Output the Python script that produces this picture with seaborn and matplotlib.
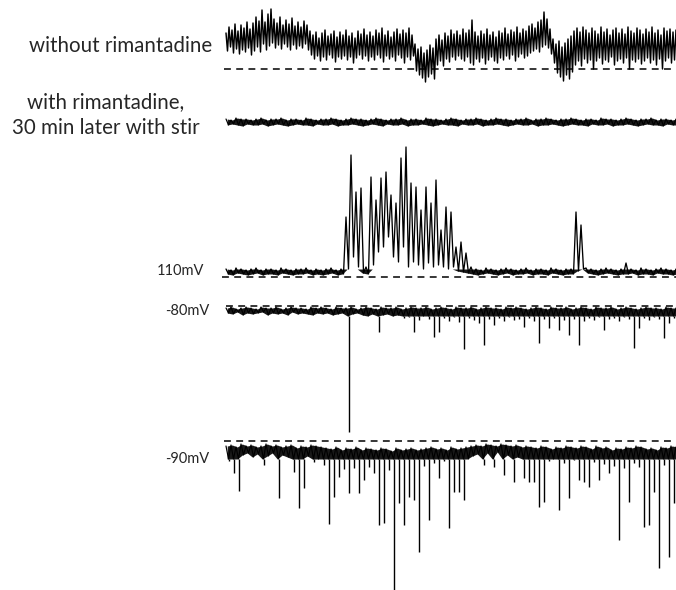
import numpy as np
import pandas as pd
import seaborn as sns
import matplotlib
matplotlib.use("Agg")
import matplotlib.pyplot as plt

# ---------------- data (current relative to closed level) -------------
# hi = upper excursion, lo = lower excursion of each sampling interval
DT1 = 3.0   # sampling interval of trace 1
DT = 5.0    # sampling interval of the other traces

t1_hi = [36, 42, 39, 45, 38, 44, 41, 47, 40, 46,
         52, 48, 59, 47, 55, 60, 50, 46, 52, 44,
         49, 45, 51, 43, 47, 42, 48, 44, 38, 34,
         37, 31, 36, 39, 33, 35, 38, 32, 37, 34,
         39, 33, 36, 31, 38, 35, 40, 34, 37, 33,
         39, 36, 41, 34, 38, 32, 37, 40, 35, 39,
         36, 41, 34, 25, 20, 22, 16, 19, 24, 21,
         30, 34, 29, 36, 33, 39, 35, 38, 34, 40,
         36, 39, 49, 37, 33, 38, 35, 40, 34, 37,
         32, 38, 36, 41, 35, 39, 37, 42, 36, 40,
         38, 43, 45, 41, 47, 49, 57, 50, 40, 30,
         25, 28, 22, 26, 30, 33, 38, 41, 37, 42,
         39, 36, 41, 38, 35, 42, 37, 40, 34, 39,
         41, 36, 40, 35, 42, 38, 36, 41, 39, 35,
         40, 37, 42, 36, 39, 34, 41, 38, 40, 37,
         39]
t1_lo = [18, 22, 16, 20, 15, 19, 17, 21, 14, 18,
         22, 17, 25, 19, 23, 26, 21, 24, 20, 25,
         22, 19, 24, 20, 23, 21, 25, 19, 14, 10,
         13, 8, 12, 9, 14, 11, 7, 12, 10, 13,
         9, 12, 6, 11, 14, 10, 13, 8, 12, 9,
         14, 11, 7, 13, 10, 12, 8, 14, 11, 6,
         12, 9, 13, -2, -6, -9, -13, -8, -5, -10,
         4, 8, 3, 10, 7, 12, 9, 13, 10, 8,
         12, 6, 4, 10, 7, 11, 5, 9, 12, 8,
         6, 11, 9, 13, 10, 14, 8, 12, 15, 11,
         13, 16, 18, 20, 17, 22, 24, 21, 15, 6,
         -4, -8, -12, -6, -10, -3, 4, 8, 3, 10,
         6, 9, 0, 8, 11, 5, 9, 7, 12, 4,
         8, 10, 6, 11, 0, 9, 7, 10, 5, 8,
         11, 6, 9, 4, 10, 0, 8, 11, 6, 9,
         7]

t2_hi = [3, 2, 4, 3, 3, 2, 3, 4, 2, 3,
         3, 4, 2, 3, 3, 2, 4, 3, 2, 3,
         3, 4, 3, 2, 3, 4, 3, 3, 2, 3,
         4, 3, 2, 3, 3, 4, 2, 3, 3, 2,
         4, 3, 3, 2, 3, 4, 3, 2, 3, 3,
         4, 3, 2, 3, 4, 3, 3, 2, 3, 3,
         4, 2, 3, 3, 4, 3, 2, 3, 3, 4,
         3, 2, 3, 3, 2, 4, 3, 3, 2, 3,
         4, 3, 2, 3, 3, 4, 2, 3, 3, 2,
         3]
t2_lo = [-3, -2, -3, -4, -2, -3, -3, -2, -4, -3,
         -2, -3, -4, -3, -2, -3, -3, -4, -2, -3,
         -3, -2, -4, -3, -3, -2, -3, -4, -3, -2,
         -3, -4, -2, -3, -3, -2, -4, -3, -3, -2,
         -3, -4, -3, -2, -3, -3, -4, -2, -3, -3,
         -2, -4, -3, -3, -2, -3, -4, -3, -2, -3,
         -3, -2, -4, -3, -3, -2, -3, -4, -3, -2,
         -3, -3, -4, -2, -3, -3, -2, -4, -3, -3,
         -2, -3, -4, -3, -2, -3, -3, -4, -2, -3,
         -3]

t3_hi = [8, 7, 9, 8, 7, 8, 9, 7, 8, 8,
         7, 9, 8, 7, 8, 8, 9, 7, 8, 7,
         8, 9, 7, 8, 60, 122, 85, 89, 10, 100,
         77, 99, 105, 82, 74, 119, 130, 94, 90, 67,
         90, 74, 97, 47, 70, 65, 30, 35, 24, 10,
         8, 7, 9, 8, 7, 8, 9, 8, 7, 8,
         9, 7, 8, 8, 7, 9, 8, 7, 8, 8,
         65, 52, 9, 8, 7, 8, 9, 8, 7, 8,
         14, 8, 7, 9, 8, 7, 8, 9, 8, 7,
         8]
t3_lo = [3, 2, 4, 3, 2, 3, 4, 2, 3, 3,
         2, 4, 3, 2, 3, 3, 4, 2, 3, 2,
         3, 4, 2, 3, 8, 20, 10, 4, 3, 12,
         25, 30, 40, 20, 15, 30, 10, 15, 12, 8,
         14, 10, 12, 10, 8, 10, 6, 5, 4, 3,
         2, 3, 4, 3, 2, 3, 4, 2, 3, 3,
         4, 2, 3, 3, 2, 4, 3, 2, 3, 3,
         6, 8, 4, 3, 2, 3, 4, 3, 2, 3,
         3, 4, 2, 3, 3, 2, 4, 3, 3, 2,
         3]

t4_hi = [-2, -1, -3, -2, -1, -2, -3, -1, -2, -2,
         -1, -3, -2, -1, -2, -2, -3, -1, -2, -1,
         -2, -3, -1, -2, -2, -1, -3, -2, -1, -2,
         -3, -1, -2, -2, -1, -3, -2, -1, -2, -2,
         -1, -3, -2, -1, -2, -3, -1, -2, -2, -1,
         -3, -2, -1, -2, -2, -3, -1, -2, -1, -2,
         -3, -2, -1, -2, -3, -1, -2, -2, -1, -3,
         -2, -1, -2, -3, -1, -2, -2, -1, -3, -2,
         -1, -2, -3, -2, -1, -2, -2, -3, -1, -2,
         -2]
t4_lo = [-7, -8, -6, -9, -7, -8, -7, -6, -9, -7,
         -8, -7, -9, -6, -8, -7, -8, -9, -7, -8,
         -7, -9, -8, -7, -126, -8, -7, -9, -10, -8,
         -26, -9, -8, -10, -9, -12, -11, -26, -14, -10,
         -13, -31, -26, -12, -15, -11, -16, -43, -12, -14,
         -17, -39, -13, -19, -12, -15, -11, -14, -13, -21,
         -12, -15, -37, -13, -22, -12, -24, -14, -29, -13,
         -39, -15, -12, -14, -11, -24, -13, -12, -15, -11,
         -13, -42, -22, -12, -14, -11, -13, -32, -17, -12,
         -14]

t5_hi = [-5, -4, -6, -3, -5, -4, -6, -5, -3, -5,
         -4, -6, -5, -4, -7, -5, -6, -4, -5, -6,
         -7, -8, -6, -9, -7, -8, -6, -9, -7, -8,
         -9, -7, -8, -10, -7, -9, -8, -7, -9, -8,
         -7, -6, -8, -7, -9, -6, -8, -7, -6, -5,
         -4, -5, -3, -4, -5, -3, -4, -5, -4, -6,
         -5, -6, -7, -5, -6, -8, -6, -7, -5, -6,
         -7, -5, -6, -8, -5, -7, -6, -9, -7, -8,
         -6, -7, -5, -6, -8, -7, -9, -6, -7, -5,
         -6]
t5_lo = [-20, -32, -50, -14, -12, -16, -13, -24, -15, -12,
         -57, -14, -16, -31, -67, -47, -15, -21, -18, -24,
         -83, -56, -36, -28, -52, -27, -52, -39, -26, -32,
         -84, -82, -29, -149, -62, -84, -56, -59, -111, -25,
         -79, -22, -37, -20, -87, -51, -51, -59, -18, -15,
         -13, -24, -12, -26, -11, -34, -14, -41, -16, -37,
         -41, -41, -66, -61, -20, -18, -69, -22, -57, -19,
         -39, -41, -46, -21, -39, -23, -32, -25, -99, -27,
         -61, -22, -26, -86, -84, -51, -127, -24, -116, -62,
         -20]

label_top = "without rimantadine"
label_mid = ["with rimantadine,", "30 min later with stir"]
label_volt = ["110mV", "-80mV", "-90mV"]

# ---------------- figure ----------------
sns.set_style("white")
plt.rcParams["font.family"] = ["Lato", "DejaVu Sans"]

W, H = 676, 590
fig = plt.figure(figsize=(W / 100, H / 100), dpi=100)
INF = np.inf


def add_trace(hi, lo, top, bottom, zero, dt=DT, clip=(-INF, INF), fill_clip=None,
              dashed=True, dash_start=222, lw=0.85):
    left_px = 222
    ax = fig.add_axes([left_px / W, 1 - bottom / H, (W - left_px) / W, (bottom - top) / H])
    ax.patch.set_alpha(0)
    hi = np.asarray(hi, float)
    lo = np.asarray(lo, float)
    n = min(len(hi), len(lo))
    hi, lo = hi[:n], lo[:n]
    idx = np.arange(n) * dt
    t = np.column_stack([idx, idx + dt / 2]).ravel()
    v = np.column_stack([hi, lo]).ravel()
    vc = np.clip(v, *clip)
    if fill_clip is not None:
        ax.fill_between(idx + dt / 4, np.clip(hi, *fill_clip), np.clip(lo, *fill_clip),
                        color="black", lw=0, alpha=0.9)
    df = pd.DataFrame({"time": t, "current": vc})
    sns.lineplot(data=df, x="time", y="current", ax=ax, color="black",
                 linewidth=lw, sort=False, estimator=None)
    # brief events beyond the noise band as thin strokes
    m = vc != v
    if m.any():
        ax.vlines(t[m], vc[m], v[m], color="black", lw=1.0)
    ax.set_xlim(left_px - 226, W - 226)
    ax.set_ylim(zero - bottom, zero - top)
    if dashed:
        ax.plot([dash_start - 226, W - 226], [0, 0], color="black", lw=1.1,
                ls=(0, (4.5, 3.5)))
    ax.set_axis_off()
    return ax


add_trace(t1_hi, t1_lo, 0, 90, 69, dt=DT1, dash_start=224, lw=1.05)
add_trace(t2_hi, t2_lo, 95, 145, 122, fill_clip=(-INF, INF), dashed=False)
add_trace(t3_hi, t3_lo, 140, 290, 277, fill_clip=(-INF, 8), dash_start=222, lw=0.95)
add_trace(t4_hi, t4_lo, 295, 440, 306, clip=(-10, INF), fill_clip=(-10, INF),
          dash_start=226)
add_trace(t5_hi, t5_lo, 436, 590, 441, clip=(-18, INF), fill_clip=(-18, INF),
          dash_start=224)

fig.text(212 / W, 1 - 46 / H, label_top, ha="right", va="center", fontsize=14.8)
fig.text(106 / W, 1 - 102 / H, label_mid[0], ha="center", va="center", fontsize=14.8)
fig.text(106 / W, 1 - 128 / H, label_mid[1], ha="center", va="center", fontsize=14.8)
fig.text(204 / W, 1 - 271 / H, label_volt[0], ha="right", va="center", fontsize=10.5)
fig.text(209 / W, 1 - 311 / H, label_volt[1], ha="right", va="center", fontsize=10.5)
fig.text(209 / W, 1 - 459 / H, label_volt[2], ha="right", va="center", fontsize=10.5)

fig.savefig("out.png", dpi=100)
